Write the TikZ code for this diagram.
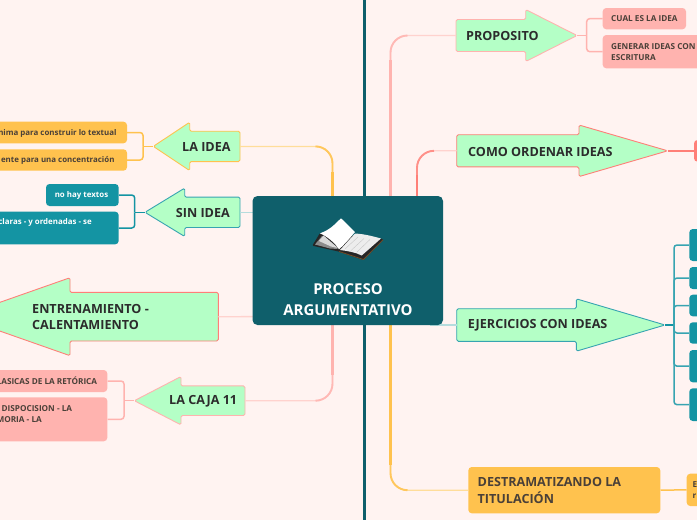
\documentclass[tikz,border=0pt]{standalone}
\usepackage{fontspec}
\setmainfont{Open Sans}
\definecolor{bg}{HTML}{FFF3F1}
\definecolor{deep}{HTML}{0F5F6B}
\definecolor{mint}{HTML}{B4FFC6}
\definecolor{orng}{HTML}{FFC24E}
\definecolor{orngL}{HTML}{FFDD9A}
\definecolor{pnk}{HTML}{FFB3AF}
\definecolor{pnkL}{HTML}{FFD2CE}
\definecolor{redd}{HTML}{FF7F78}
\definecolor{teal1}{HTML}{1494A3}
\definecolor{tealL}{HTML}{B5DCDD}
\definecolor{ink}{HTML}{2C2C2C}
\definecolor{ink2}{HTML}{4A4038}
\tikzset{
  arrowshape/.style={fill=mint,line width=0.9pt,rounded corners=1.5pt,line join=round},
  headtext/.style={font=\bfseries\fontsize{12.6}{16.6}\selectfont,text=ink,inner sep=0pt,align=left},
  subtext/.style={font=\bfseries\fontsize{8.2}{11}\selectfont,inner sep=0pt,align=left},
  lowtext/.style={font=\bfseries\fontsize{7.9}{11}\selectfont,inner sep=0pt,align=left},
  subbox/.style={rounded corners=3.5pt,inner sep=0pt,draw=none},
  branch/.style={line width=1.5pt,rounded corners=3pt},
  thinlink/.style={line width=1.3pt,rounded corners=17pt},
  midlink/.style={line width=1.9pt,rounded corners=17pt},
  thicklink/.style={line width=2.4pt},
}
% name, colour, base x, back-of-head x, tip x, axis y, half shaft, half head
\newcommand{\blockarrow}[8]{%
  \draw[arrowshape,draw=#2] (#3,#6-#7) -- (#4,#6-#7) -- (#4,#6-#8) -- (#5,#6) -- (#4,#6+#8) -- (#4,#6+#7) -- (#3,#6+#7) -- cycle;
  \coordinate (#1-base) at (#3,#6);
  \coordinate (#1-tip) at (#5,#6);
}
% name, fill, x1, y1, x2, y2
\newcommand{\boxnode}[6]{%
  \pgfmathsetmacro{\bw}{#5-(#3)}\pgfmathsetmacro{\bh}{#6-(#4)}%
  \node[subbox,fill=#2,minimum width=\bw pt,minimum height=\bh pt] (#1) at ({(#3+#5)/2},{(#4+#6)/2}) {};
}
% light colour, full colour, base, trunk, x of trunk, y of base, y where the trunk is full, x where the corner begins
\newcommand{\trunklink}[8]{%
  \draw[thinlink,#1] (#3) -| (#4);
  \draw[midlink,#2!80!#1] (#8,#6) -| (#4);
  \draw[thicklink,#2] (#4) -- (#5,#7);
}
\begin{document}
\begin{tikzpicture}[x=1pt,y=-1pt]
\useasboundingbox (0,0) rectangle (697,520);
\clip (0,0) rectangle (697,520);
\fill[bg] (0,0) rectangle (697,520);

% anchor points of the trunks, hidden behind the central node
\coordinate (trunkA) at (332.5,260);
\coordinate (trunkB) at (390.5,260);
\coordinate (trunkC) at (417,260);
\coordinate (trunkL) at (300,212.3);
\coordinate (trunkE) at (300,316.5);
\coordinate (trunkJ) at (430,325);
\coordinate (axisT) at (364.5,0);
\coordinate (axisB) at (364.5,520);

% axis
\draw[deep,line width=2.4pt] (axisT) -- (axisB);

% arrows (geometry and anchors)
\blockarrow{laidea}{orng}{240}{189.7}{153.3}{146.4}{15.2}{24.2}
\blockarrow{sinidea}{teal1!85!white}{240}{184.7}{145}{212.3}{15.2}{24.2}
\blockarrow{entre}{redd}{218.3}{70}{-41}{316.7}{24.3}{39}
\blockarrow{caja}{pnk}{245}{181}{134.3}{400.7}{14.8}{24.2}
\blockarrow{prop}{pnk}{456}{525.7}{577}{35.5}{16}{26}
\blockarrow{como}{redd}{456.7}{579}{667.7}{150.8}{16.1}{25.8}
\blockarrow{ejer}{teal1!85!white}{456.7}{576.3}{665}{325}{16.3}{26.2}

% orange box under the central node's links
\boxnode{des}{orng}{468.3}{467}{660.3}{513.3}

% main links
\trunklink{orngL}{orng}{laidea-base}{trunkA}{332.5}{146.4}{172}{315.5}
\trunklink{pnkL}{pnk}{caja-base}{trunkA}{332.5}{400.7}{375}{315.5}
\trunklink{pnkL}{pnk}{prop-base}{trunkB}{390.5}{35.5}{60}{407.5}
\trunklink{pnkL}{redd}{como-base}{trunkC}{417}{150.8}{175}{434}
\trunklink{orngL}{orng}{des.west}{trunkB}{390.5}{490.2}{465}{407.5}
\draw[thinlink,tealL] (sinidea-base) -- (trunkL);
\draw[thinlink,pnkL] (entre-base) -- (trunkE);
\draw[thinlink,tealL] (ejer-base) -- (trunkJ);

% central node
\node[fill=deep,rounded corners=5pt,minimum width=190.5pt,minimum height=129pt,inner sep=0pt] (central) at (347.75,260.5) {};
\node[font=\bfseries\fontsize{15}{21}\selectfont,text=white,align=center,inner sep=0pt] (centraltext) at (348,299.5) {PROCESO\\ARGUMENTATIVO};

% book
\fill[black!85,line join=round,rounded corners=1pt] (312.3,245.7) -- (320,233) -- (339,240) -- (355,235) -- (381,238.5) -- (383.5,239.5) -- (363.5,260) -- (338.5,251.5) -- cycle;
\fill[black!45] (315,244.5) -- (322,236) -- (338,249) -- (330,248.5) -- cycle;
\fill[black!15] (319,241) -- (323.5,235.5) -- (338,248) -- (331,246.5) -- cycle;
\fill[white] (320,233.3) .. controls (330,230) and (335,224) .. (341,218.3) .. controls (346,223) and (351,228) .. (355,232) .. controls (350,238) and (345,244) .. (339,249.3) .. controls (335,243) and (328,237) .. cycle;
\fill[black!7] (355,233.5) .. controls (364,234) and (372,236) .. (381,238.5) -- (361.7,255.5) .. controls (355,252) and (347,251) .. (340,250) -- cycle;
\draw[black!22,line width=0.4pt] (358,237) -- (345,249) (364,238.5) -- (351,250.5) (370,239.5) -- (357,252);
\draw[brown!60!black,line width=0.8pt] (339,251.5) -- (363.5,259.5) -- (383,239.8);

% labels of the arrows
\node[headtext,anchor=west] (laidea) at (182,146.5) {LA IDEA};
\node[headtext,anchor=west] (sinidea) at (175.7,213) {SIN IDEA};
\node[headtext,anchor=west] (entre) at (32,317) {ENTRENAMIENTO -\\CALENTAMIENTO};
\node[headtext,anchor=west] (caja) at (169,401.3) {LA CAJA 11};
\node[headtext,anchor=west] (prop) at (466,35.5) {PROPOSITO};
\node[headtext,anchor=west] (como) at (468,151.5) {COMO ORDENAR IDEAS};
\node[headtext,anchor=west] (ejer) at (467.7,325.5) {EJERCICIOS CON IDEAS};

% orange branch
\boxnode{la1}{orng}{-40}{121.7}{127}{143.3}
\boxnode{la2}{orng}{-40}{149.3}{127}{170.7}
\coordinate (jla) at (143,146.4);
\draw[branch,orng] (laidea-tip) -- (jla);
\draw[branch,orng] (la1.east) -| (jla);
\draw[branch,orng] (la2.east) -| (jla);
\node[lowtext,text=ink2,anchor=east] (la1t) at (116.7,133) {nima para construir lo textual};
\node[lowtext,text=ink2,anchor=east] (la2t) at (114.7,160) {ente para una concentración};

% teal branch, left
\boxnode{si1}{teal1}{46}{184}{118.7}{206}
\boxnode{si2}{teal1}{-40}{211.7}{118.7}{244.3}
\coordinate (jsi) at (134.7,212.3);
\draw[branch,teal1] (sinidea-tip) -- (jsi);
\draw[branch,teal1] (si1.east) -| (jsi);
\draw[branch,teal1] (si2.east) -| (jsi);
\node[lowtext,text=white,anchor=center] (si1t) at (81.5,195.3) {no hay textos};
\node[lowtext,text=white,anchor=east] (si2t) at (92,222.7) {claras - y ordenadas - se};

% pink branch, left
\boxnode{ca1}{pnk}{-40}{370}{107.3}{392}
\boxnode{ca2}{pnk}{-40}{397.3}{107.3}{441.3}
\coordinate (jca) at (124,400.7);
\draw[branch,pnk] (caja-tip) -- (jca);
\draw[branch,pnk] (ca1.east) -| (jca);
\draw[branch,pnk] (ca2.east) -| (jca);
\node[subtext,text=ink2,anchor=east] (ca1t) at (97.3,381) {LASICAS DE LA RETÓRICA};
\node[subtext,text=ink2,anchor=east] (ca2t) at (72.3,409) {DISPOCISION - LA};
\node[subtext,text=ink2,anchor=east] (ca3t) at (42,420) {MORIA - LA};

% pink branch, right
\boxnode{pr1}{pnk}{602.7}{8}{686}{29.3}
\boxnode{pr2}{pnk}{602.7}{35}{740}{68.3}
\coordinate (jpr) at (586.7,35.5);
\draw[branch,pnk] (prop-tip) -- (jpr);
\draw[branch,pnk] (pr1.west) -| (jpr);
\draw[branch,pnk] (pr2.west) -| (jpr);
\node[subtext,text=ink2,anchor=west] (pr1t) at (611,18.6) {CUAL ES LA IDEA};
\node[subtext,text=ink2,anchor=west] (pr2t) at (611,52.2) {GENERAR IDEAS CON\\ESCRITURA};

% red branch
\boxnode{co1}{redd}{694}{140}{740}{161.7}
\draw[branch,redd] (como-tip) -- (co1.west |- como-tip);

% teal branch, right
\boxnode{ej1}{teal1}{689.3}{229}{740}{261}
\boxnode{ej2}{teal1}{689.3}{267}{740}{289}
\boxnode{ej3}{teal1}{689.3}{294.7}{740}{316.3}
\boxnode{ej4}{teal1}{689.3}{322.3}{740}{343.7}
\boxnode{ej5}{teal1}{689.3}{350}{740}{382.3}
\boxnode{ej6}{teal1}{689.3}{388.3}{740}{421}
\coordinate (jej) at (674,325);
\draw[branch,teal1] (ejer-tip) -- (jej);
\foreach \n in {ej1,ej2,ej3,ej4,ej5,ej6} \draw[branch,teal1!85!white] (\n.west) -| (jej);

% orange box text and its branch
\node[font=\bfseries\fontsize{12.6}{16.6}\selectfont,text=ink2,anchor=west,align=left,inner sep=0pt] (dest) at (477.5,490.5) {DESTRAMATIZANDO LA\\TITULACIÓN};
\boxnode{de1}{orng}{686.7}{473.7}{740}{506}
\draw[branch,orng] (des.east) -- (de1.west);
\node[subtext,text=ink2,anchor=west] (de1t) at (692.5,490) {E\\r};
\end{tikzpicture}
\end{document}
